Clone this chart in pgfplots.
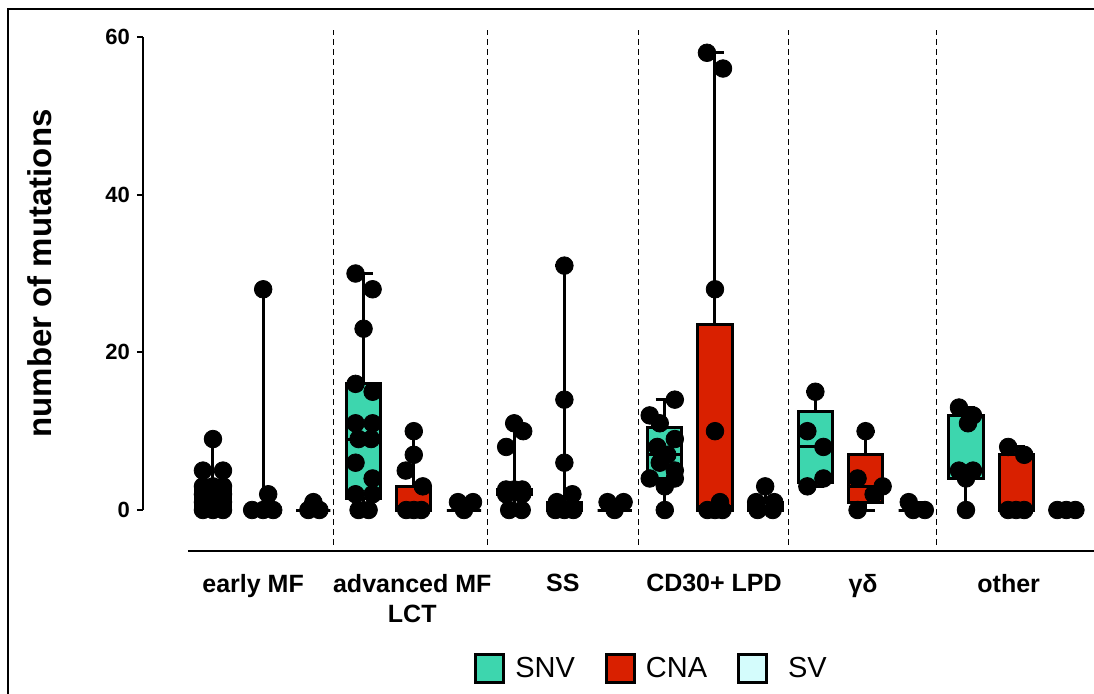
\documentclass[border=0pt]{standalone}
\usepackage{fontspec}
\setmainfont{Liberation Sans}
\usepackage{pgfplots}
\pgfplotsset{compat=1.18}
\usepgfplotslibrary{statistics}

\definecolor{snv}{RGB}{61,214,174}
\definecolor{cna}{RGB}{217,32,0}
\definecolor{sv}{RGB}{212,252,252}

\pgfplotsset{
  bx/.style={draw=black, line width=1.5pt, forget plot, solid},
  pts/.style={only marks, mark=*, mark size=4.4pt, mark options={fill=black, draw=black}, forget plot},
}

\begin{document}
\begin{tikzpicture}
\path[use as bounding box] (-71.5pt,-91.5pt) rectangle (475.5pt,255pt);
\draw[line width=1.2pt] (-67.5pt,-95pt) -- (-67.5pt,250.5pt) -- (480pt,250.5pt);
\begin{axis}[
  scale only axis,
  width=475.5pt, height=236.5pt,
  xmin=-1.394, xmax=17.55,
  ymin=0, ymax=60,
  clip=false,
  axis y line*=left,
  axis x line*=bottom,
  x axis line style={draw=none},
  y axis line style={line width=1pt},
  ytick={0,20,40,60},
  tick align=outside,
  major tick length=3pt,
  ytick style={line width=1pt, black},
  xtick style={draw=none},
  xtick={0.8,3.97,6.97,9.98,12.95,15.85},
  xticklabels={early MF, advanced MF\\LCT, SS, CD30+ LPD, γδ, other},
  xticklabel style={font=\bfseries\fontsize{12.5}{15}\selectfont, align=center, yshift=-25.5pt},
  yticklabel style={font=\bfseries\fontsize{11}{13}\selectfont},
  /pgf/number format/assume math mode=true,
  ylabel={number of mutations},
  every axis y label/.style={at={(axis description cs:-0.1083,0.5)}, rotate=90, anchor=center, font=\bfseries\fontsize{16.5}{20}\selectfont},
  boxplot/draw direction=y,
  boxplot/box extend=0.68,
  boxplot/whisker extend=0.36,
  legend style={at={(axis description cs:0.5358,-0.336)}, anchor=center, draw=none,
    font=\fontsize{14.5}{17}\selectfont, /tikz/every even column/.append style={column sep=13pt}},
  legend columns=3,
]
\addlegendimage{legend image code/.code={\draw[line width=1.5pt, draw=black, fill=snv] (0pt,-7pt) rectangle (14pt,7pt);}}
\addlegendentry{\hspace*{3pt}SNV}
\addlegendimage{legend image code/.code={\draw[line width=1.5pt, draw=black, fill=cna] (0pt,-7pt) rectangle (14pt,7pt);}}
\addlegendentry{\hspace*{3pt}CNA}
\addlegendimage{legend image code/.code={\draw[line width=1.5pt, draw=black, fill=sv] (0pt,-7pt) rectangle (14pt,7pt);}}
\addlegendentry{\hspace*{8pt}SV}

% separators and baseline
\draw[line width=1pt] (axis cs:-0.5,-5.2) -- (axis cs:17.55,-5.2);
\pgfplotsinvokeforeach{2.4,5.46,8.47,11.47,14.42}{
  \draw[densely dashed, line width=0.5pt] (axis cs:#1,-4.4) -- (axis cs:#1,60.9);
}

% early MF
\addplot[bx, fill=snv, boxplot prepared={lower whisker=0, lower quartile=0, median=1, upper quartile=3, upper whisker=9, draw position=0}] coordinates {};
\addplot[bx, fill=cna, boxplot prepared={lower whisker=0, lower quartile=0, median=0, upper quartile=0, upper whisker=28, draw position=1}] coordinates {};
\addplot[bx, fill=sv, boxplot prepared={lower whisker=0, lower quartile=0, median=0, upper quartile=0, upper whisker=1, draw position=2}] coordinates {};
% advanced MF LCT
\addplot[bx, fill=snv, boxplot prepared={lower whisker=0, lower quartile=1.5, median=9, upper quartile=16, upper whisker=30, draw position=3}] coordinates {};
\addplot[bx, fill=cna, boxplot prepared={lower whisker=0, lower quartile=0, median=0.5, upper quartile=3, upper whisker=10, draw position=4}] coordinates {};
\addplot[bx, fill=sv, boxplot prepared={lower whisker=0, lower quartile=0, median=0, upper quartile=0, upper whisker=1, draw position=5}] coordinates {};
% SS
\addplot[bx, fill=snv, boxplot prepared={lower whisker=0, lower quartile=2, median=2.5, upper quartile=2.6, upper whisker=11, draw position=6}] coordinates {};
\addplot[bx, fill=cna, boxplot prepared={lower whisker=0, lower quartile=0, median=0, upper quartile=1, upper whisker=31, draw position=7}] coordinates {};
\addplot[bx, fill=sv, boxplot prepared={lower whisker=0, lower quartile=0, median=0, upper quartile=0, upper whisker=1, draw position=8}] coordinates {};
% CD30+ LPD
\addplot[bx, fill=snv, boxplot prepared={lower whisker=0, lower quartile=4, median=7, upper quartile=10.5, upper whisker=14, draw position=9}] coordinates {};
\addplot[bx, fill=cna, boxplot prepared={lower whisker=0, lower quartile=0, median=0.5, upper quartile=23.5, upper whisker=58, draw position=10}] coordinates {};
\addplot[bx, fill=sv, boxplot prepared={lower whisker=0, lower quartile=0, median=0, upper quartile=1, upper whisker=3, draw position=11}] coordinates {};
% gamma delta
\addplot[bx, fill=snv, boxplot prepared={lower whisker=3, lower quartile=3.5, median=8, upper quartile=12.5, upper whisker=15, draw position=12}] coordinates {};
\addplot[bx, fill=cna, boxplot prepared={lower whisker=0, lower quartile=1, median=3, upper quartile=7, upper whisker=10, draw position=13}] coordinates {};
\addplot[bx, fill=sv, boxplot prepared={lower whisker=0, lower quartile=0, median=0, upper quartile=0, upper whisker=1, draw position=14}] coordinates {};
% other
\addplot[bx, fill=snv, boxplot prepared={lower whisker=0, lower quartile=4, median=5, upper quartile=12, upper whisker=13, draw position=15}] coordinates {};
\addplot[bx, fill=cna, boxplot prepared={lower whisker=0, lower quartile=0, median=0, upper quartile=7, upper whisker=8, draw position=16}] coordinates {};
\addplot[bx, fill=sv, boxplot prepared={lower whisker=0, lower quartile=0, median=0, upper quartile=0, upper whisker=0, draw position=17}] coordinates {};

% individual samples
\addplot[pts] table {
x y
0.0 9
-0.2 5
0.2 5
-0.2 3
0.0 3
0.2 3
-0.2 2
0.2 2
0.0 2
-0.2 1
0.2 1
0.0 1
-0.1 0.5
-0.2 0
0.2 0
0.0 0
0.78 0
1.0 0
1.2 0
1.1 2
1.0 28
1.9 0
2.12 0
2.0 1
2.84 30
3.18 28
3.0 23
2.84 16
3.18 15
2.84 11
3.18 11
2.9 9
3.15 9
2.84 6
3.18 4
2.84 2
3.18 2
2.9 0
3.1 0
4.0 10
4.0 7
3.84 5
4.18 3
3.85 0
4.15 0
4.0 0
4.88 1
5.18 1
5.0 0
6.0 11
6.18 10
5.84 8
5.84 2.6
6.0 2.6
6.16 2.6
5.84 2
6.16 2
5.9 0
6.15 0
7.0 31
7.0 14
7.0 6
7.16 2
6.85 1
6.82 0
7.0 0
7.18 0
7.86 1
8.18 1
8.0 0
9.2 14
8.7 12
8.9 11
9.2 9
8.85 8
9.05 7
8.9 6
9.2 5
8.7 4
9.2 4
9.0 3
9.0 0
9.84 58
10.16 56
10.0 28
10.0 10
10.1 1
9.85 0
10.0 0
10.15 0
11.0 3
10.82 1
11.18 1
10.85 0
11.15 0
12.0 15
11.84 10
12.16 8
12.16 4
11.84 3
13.0 10
12.84 4
13.34 3
13.16 2
12.84 0
13.86 1
13.95 0
14.18 0
14.86 13
15.14 12
15.04 11
14.86 5
15.14 5
15.0 4
15.0 0
15.84 8
16.16 7
15.84 0
16.0 0
16.16 0
16.82 0
17.0 0
17.18 0
};
\end{axis}
\end{tikzpicture}
\end{document}
